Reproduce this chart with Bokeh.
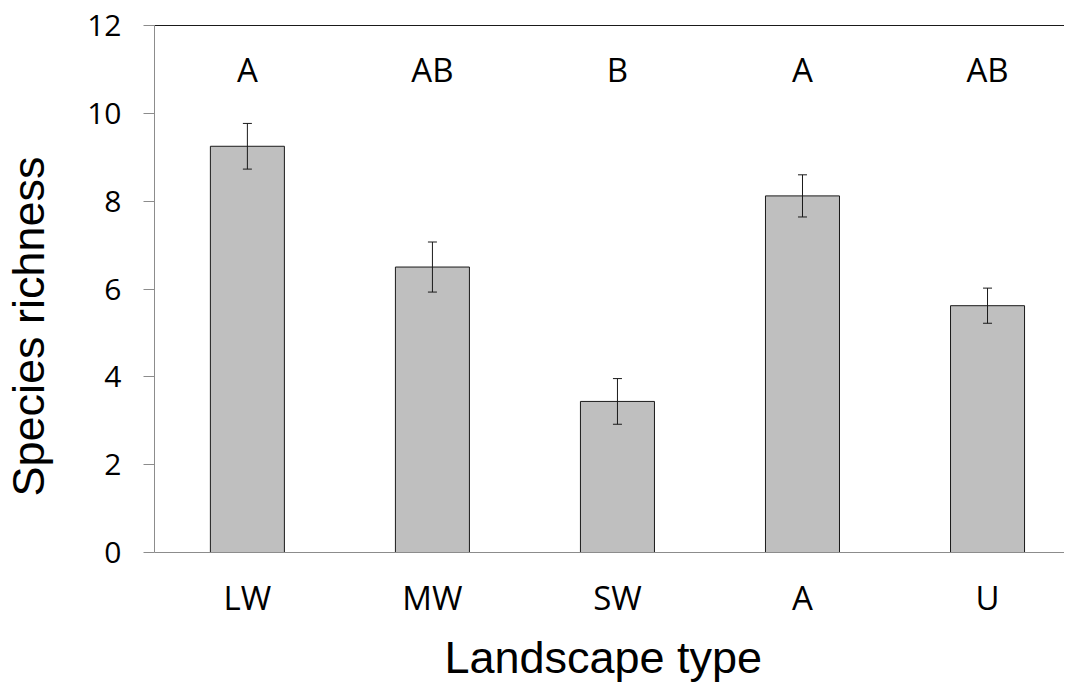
import math
from bokeh.plotting import figure
from bokeh.models import ColumnDataSource, Whisker, FixedTicker, LinearAxis, Range1d
from bokeh.core.properties import value
from bokeh.embed import file_html
from bokeh.resources import INLINE

# ---- data ----
categories = ["LW", "MW", "SW", "A", "U"]
richness = [9.25, 6.50, 3.44, 8.12, 5.62]
std_err = [0.52, 0.57, 0.52, 0.48, 0.40]
letters = ["A", "AB", "B", "A", "AB"]
letter_level = 11.0
y_ticks = [0, 2, 4, 6, 8, 10, 12]

x_pos = list(range(len(categories)))
src = ColumnDataSource(dict(
    x=x_pos,
    top=richness,
    upper=[r + s for r, s in zip(richness, std_err)],
    lower=[r - s for r, s in zip(richness, std_err)],
    letters=letters,
    ly=[letter_level] * len(categories),
))

p = figure(width=1064, height=685, output_backend="svg", toolbar_location=None,
           x_range=Range1d(-0.502, 4.416), y_range=Range1d(0, 12),
           min_border_left=153, min_border_right=0, min_border_top=25,
           min_border_bottom=132)
p.xgrid.visible = False
p.ygrid.visible = False
p.outline_line_color = None
p.background_fill_color = "white"
p.border_fill_color = "white"

p.vbar(x="x", top="top", bottom=0, width=0.4, source=src,
       fill_color="#bfbfbf", line_color="#1a1a1a", line_width=1)

w = Whisker(source=src, base="x", upper="upper", lower="lower",
            line_color="#1a1a1a", line_width=1, level="overlay")
w.upper_head.size = 9
w.lower_head.size = 9
w.upper_head.line_color = "#1a1a1a"
w.lower_head.line_color = "#1a1a1a"
p.add_layout(w)

p.text(x="x", y="ly", text="letters", source=src, text_align="center",
       text_baseline="middle", text_font=value("Open Sans"),
       text_font_size="33px", text_color="black")

# y axis
ya = p.yaxis[0]
ya.ticker = FixedTicker(ticks=y_ticks)
ya.minor_tick_line_color = None
ya.major_tick_in = 0
ya.major_tick_out = 11
ya.axis_line_color = "#8c8c8c"
ya.major_tick_line_color = "#8c8c8c"
ya.major_label_text_font = "Open Sans"
ya.major_label_text_font_size = "30px"
ya.major_label_text_color = "black"
ya.major_label_standoff = 22
# trailing no-break spaces shift the centred title down, as in the original
ya.axis_label = "Species richness" + "\u00a0" * 6
ya.axis_label_text_font = "Liberation Sans"
ya.axis_label_text_font_size = "45px"
ya.axis_label_text_font_style = "normal"
ya.axis_label_text_color = "black"
ya.axis_label_standoff = 30

# x axis
xa = p.xaxis[0]
xa.ticker = FixedTicker(ticks=x_pos)
xa.major_label_overrides = {i: c for i, c in zip(x_pos, categories)}
xa.minor_tick_line_color = None
xa.major_tick_line_color = None
xa.major_tick_in = 0
xa.major_tick_out = 0
xa.axis_line_color = "#8c8c8c"
xa.major_label_text_font = "Open Sans"
xa.major_label_text_font_size = "33px"
xa.major_label_text_color = "black"
xa.major_label_standoff = 22
xa.axis_label = "Landscape type" + "\u00a0"
xa.axis_label_text_font = "Liberation Sans"
xa.axis_label_text_font_size = "45px"
xa.axis_label_text_font_style = "normal"
xa.axis_label_text_color = "black"
xa.axis_label_standoff = 9

# top border line
top = LinearAxis(ticker=FixedTicker(ticks=[]), axis_line_color="#1a1a1a",
                 major_tick_line_color=None, minor_tick_line_color=None,
                 major_label_text_font_size="0px", major_tick_out=0,
                 major_tick_in=0)
p.add_layout(top, "above")

open("out.html", "w").write(file_html(p, INLINE))
